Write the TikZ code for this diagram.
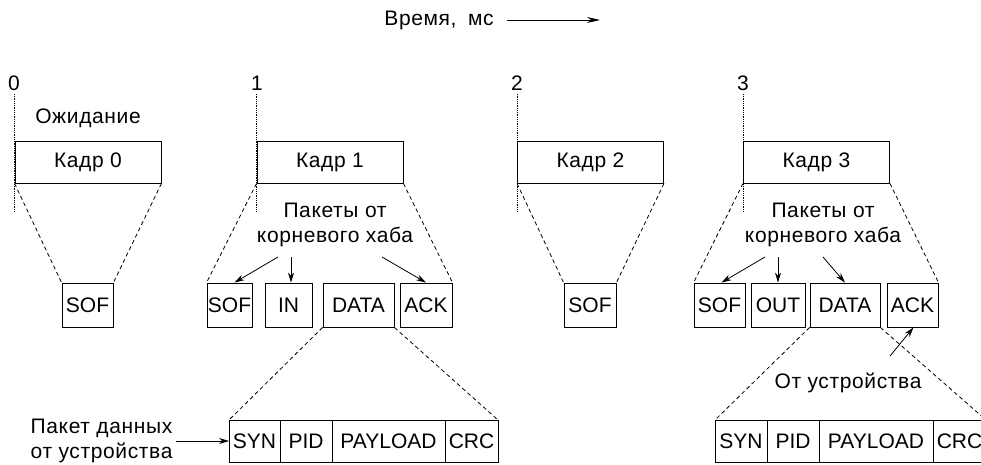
\documentclass[tikz,border=0pt]{standalone}
\usepackage{fontspec}
\setmainfont{Liberation Sans}
\newfontfamily\rufont[LetterSpace=3]{Liberation Sans}
\usetikzlibrary{arrows.meta,positioning}

\begin{document}
\begin{tikzpicture}[x=1pt,y=-1pt,>={Stealth[length=10pt,width=6pt]},
  font=\fontsize{21}{25}\selectfont,
  ru/.style={font=\rufont\fontsize{21}{25}\selectfont},
  frame/.style={draw,line width=.9pt,inner sep=0pt,minimum width=146pt,minimum height=42pt},
  pkt/.style={draw,line width=.9pt,inner sep=0pt,minimum height=44pt,minimum width=#1},
  fld/.style={draw,line width=.9pt,inner sep=0pt,outer sep=0pt,minimum height=42pt,minimum width=#1},
  zoomln/.style={dash pattern=on 4pt off 3pt,line width=.8pt},
  tick/.style={densely dotted,line width=.8pt},
  arr/.style={->,line width=.8pt}]
\useasboundingbox (0,0) rectangle (981,464);

% time axis
\node[ru] (t) at (439,20) {Время,\hspace{5pt} мс};
\coordinate (tend) at (600,20);
\draw[->,line width=.8pt,>={Stealth[length=13pt,width=6pt]}] ([xshift=10pt]t.east) -- (tend);

% frame 0
\node (n0) at (14,83) {0};
\node[ru] (w0) at (88,118) {Ожидание};
\node[frame,ru] (k0) at (88,162) {Кадр 0};
\draw[tick] (n0.south -| k0.west) -- ++(0,118);
\node[pkt=51pt] (sof0) at (87.5,305) {SOF};
\draw[zoomln] (k0.south west) -- (sof0.north west) (k0.south east) -- (sof0.north east);

% frame 1
\node (n1) at (257,83) {1};
\node[frame,ru] (k1) at (330,162) {Кадр 1};
\draw[tick] (n1.south -| k1.west) -- ++(0,118);
\node[ru,align=center] (h1) at (335,225) {Пакеты от\\корневого хаба};
\node[pkt=45pt] (sof1) at (229.5,305) {SOF};
\node[pkt=47pt] (in1) at (288.5,305) {IN};
\node[pkt=71pt] (data1) at (358.5,305) {DATA};
\node[pkt=52pt] (ack1) at (426,305) {ACK};
\draw[zoomln] (k1.south west) -- (sof1.north west) (k1.south east) -- (ack1.north east);
\coordinate (a1) at (278,257);\coordinate (b1) at (291,257);\coordinate (c1) at (382,257);
\draw[arr] (a1) -- ([xshift=5pt]sof1.north);
\draw[arr] (b1) -- (b1 |- in1.north);
\draw[arr] (c1) -- (ack1.north);
\node[fld=51pt] (syn1) at (254.5,441) {SYN};
\node[fld=52pt,right=0pt of syn1] (pid1) {PID};
\node[fld=113pt,right=0pt of pid1] (pay1) {PAYLOAD};
\node[fld=53pt,right=0pt of pay1] (crc1) {CRC};
\draw[zoomln] (data1.south west) -- (syn1.north west) (data1.south east) -- (crc1.north east);
\node[ru,align=left,left=53pt of syn1] (pk) {Пакет данных\\от устройства};
\draw[arr] (pk.east) -- (syn1.west);

% frame 2
\node (n2) at (517,83) {2};
\node[frame,ru] (k2) at (590.5,162) {Кадр 2};
\draw[tick] (n2.south -| k2.west) -- ++(0,118);
\node[pkt=52pt] (sof2) at (590,305) {SOF};
\draw[zoomln] (k2.south west) -- (sof2.north west) (k2.south east) -- (sof2.north east);

% frame 3
\node (n3) at (743,83) {3};
\node[frame,ru] (k3) at (816.5,162) {Кадр 3};
\draw[tick] (n3.south -| k3.west) -- ++(0,118);
\node[ru,align=center] (h3) at (823,225) {Пакеты от\\корневого хаба};
\node[pkt=51pt] (sof3) at (719.5,305) {SOF};
\node[pkt=54pt] (out3) at (778,305) {OUT};
\node[pkt=70pt] (data3) at (845,305) {DATA};
\node[pkt=51pt] (ack3) at (912.5,305) {ACK};
\draw[zoomln] (k3.south west) -- (sof3.north west) (k3.south east) -- (ack3.north east);
\coordinate (a3) at (765,257);\coordinate (b3) at (778,257);\coordinate (c3) at (823,257);
\draw[arr] (a3) -- ([xshift=2pt]sof3.north);
\draw[arr] (b3) -- (out3.north);
\draw[arr] (c3) -- (data3.north);
\node[fld=52pt] (syn3) at (741,441) {SYN};
\node[fld=52pt,right=0pt of syn3] (pid3) {PID};
\node[fld=114pt,right=0pt of pid3] (pay3) {PAYLOAD};
\node[fld=53pt,right=0pt of pay3] (crc3) {CRC};
\draw[zoomln] (data3.south west) -- (syn3.north west) (data3.south east) -- (crc3.north east);
\node[ru] (d3) at (848,383) {От устройства};
\coordinate (e3) at (890,356);
\draw[arr] (e3) -- ([xshift=1pt]ack3.south);
\end{tikzpicture}
\end{document}
